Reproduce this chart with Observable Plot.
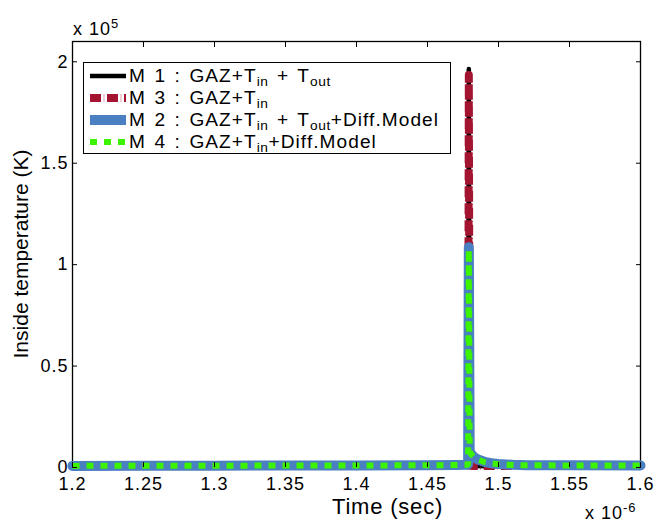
<!DOCTYPE html>
<html>
<head>
<meta charset="utf-8">
<script src="https://cdn.jsdelivr.net/npm/d3@7"></script>
<script src="https://cdn.jsdelivr.net/npm/@observablehq/plot@0.6"></script>
<style>
  body { margin: 0; background: #fff; }
  #wrap { position: relative; width: 657px; height: 521px; font-family: "Liberation Sans", Arial, sans-serif; color: #000; }
  #wrap > svg { position: absolute; left: 0; top: 0; }
  #wrap svg g[aria-label="y-axis tick label"] text,
  #wrap svg g[aria-label="x-axis tick label"] text { letter-spacing: 1px; }
  .txt { position: absolute; white-space: nowrap; line-height: 1; }
  .legend { position: absolute; left: 83px; top: 62px; width: 366px; height: 90px; border: 1px solid #000; background: #fff; box-sizing: content-box; overflow: hidden; }
  .row { position: absolute; left: 0; height: 22px; display: flex; align-items: center; font-size: 18px; white-space: nowrap; }
  #wrap .row svg { position: static; margin-left: 6px; margin-right: 3px; flex: none; }
  .row span { display: inline-block; letter-spacing: 1px; word-spacing: 2px; transform: scaleX(1.06); transform-origin: left center; }
  sub { font-size: 0.72em; vertical-align: -0.28em; line-height: 0; letter-spacing: 0.5px; }
  sup { font-size: 0.72em; vertical-align: 0.55em; line-height: 0; }
</style>
</head>
<body>
<div id="wrap"></div>
<script>
// Time in units of 1e-6 s, temperature in K
const time = [1.2, 1.25, 1.3, 1.35, 1.4, 1.45, 1.47, 1.478, 1.4786, 1.4791, 1.4797, 1.481, 1.483, 1.486, 1.49, 1.495, 1.5, 1.51, 1.52, 1.55, 1.6];
const m1 = [800, 850, 900, 950, 1000, 1100, 1200, 1300, 1500, 196500, 900, 800, 800, 800, 800, 800, 800, 800, 800, 800, 800];
const m3 = [800, 850, 900, 950, 1000, 1100, 1200, 1300, 1500, 193500, 900, 800, 800, 800, 800, 800, 800, 800, 800, 800, 800];
const m2 = [800, 850, 900, 950, 1000, 1100, 1200, 1300, 1500, 108600, 8000, 6500, 5000, 3800, 2800, 2100, 1700, 1300, 1150, 1050, 1000];
const m4 = [800, 850, 900, 950, 1000, 1100, 1200, 1300, 1500, 107500, 7800, 6300, 4900, 3700, 2700, 2000, 1600, 1250, 1100, 1000, 950];

const seriesNames = ["M1", "M3", "M2", "M4"];
const xTicks = [1.2, 1.25, 1.3, 1.35, 1.4, 1.45, 1.5, 1.55, 1.6];
const yTicks = [0, 50000, 100000, 150000, 200000];
const yTickLabels = ["0", "0.5", "1", "1.5", "2"];

const styles = {
  M1: {stroke: "#000000", strokeWidth: 4.5},
  M3: {stroke: "#a2142f", strokeWidth: 8, strokeDasharray: "11,2.8,0.4,2.8", strokeLinecap: "butt"},
  M2: {stroke: "#4a7fc2", strokeWidth: 10},
  M4: {stroke: "#3cf400", strokeWidth: 6, strokeDasharray: "7,7", strokeLinecap: "butt"}
};

const values = {M1: m1, M3: m3, M2: m2, M4: m4};
const rows = seriesNames.map(name => time.map((t, i) => ({t, v: values[name][i]})));

const fmtX = d => String(+d.toFixed(2));
const fmtY = d => yTickLabels[yTicks.indexOf(d)];

const chart = Plot.plot({
  width: 657,
  height: 521,
  marginLeft: 72,
  marginRight: 17,
  marginTop: 41,
  marginBottom: 54,
  style: {fontFamily: "Liberation Sans, Arial, sans-serif", fontSize: "18px", background: "white", color: "black"},
  x: {domain: [1.2, 1.6]},
  y: {domain: [0, 210000]},
  marks: [
    Plot.frame({stroke: "black", strokeWidth: 1.3}),
    ...seriesNames.map((name, k) => Plot.line(rows[k], {x: "t", y: "v", ...styles[name], strokeLinejoin: "round", strokeLinecap: styles[name].strokeLinecap ?? "round"})),
    Plot.axisX({anchor: "bottom", ticks: xTicks, tickSize: -5, tickPadding: 15, tickFormat: fmtX, label: null, fontSize: 18}),
    Plot.axisX({anchor: "top", ticks: xTicks, tickSize: -5, tickFormat: () => "", label: null}),
    Plot.axisY({anchor: "left", ticks: yTicks, tickSize: -5, tickPadding: 9, tickFormat: fmtY, label: null, fontSize: 18}),
    Plot.axisY({anchor: "right", ticks: yTicks, tickSize: -5, tickFormat: () => "", label: null})
  ]
});

const wrap = document.getElementById("wrap");
wrap.appendChild(chart);

function addText(html, css) {
  const el = document.createElement("div");
  el.className = "txt";
  el.innerHTML = html;
  Object.assign(el.style, css);
  wrap.appendChild(el);
  return el;
}

addText("x 10<sup>5</sup>", {left: "73px", top: "20px", fontSize: "18px", letterSpacing: "1px"});
addText("x 10<sup>-6</sup>", {left: "585px", top: "504px", fontSize: "18px", letterSpacing: "1px"});
addText("Time (sec)", {left: "332px", top: "496px", fontSize: "22px", letterSpacing: "0.8px"});
addText("Inside temperature (K)", {left: "20px", top: "254px", fontSize: "21px", transform: "translate(-50%,-50%) rotate(-90deg)"});

// Legend
const legendLabels = [
  "M 1 : GAZ+T<sub>in</sub> + T<sub>out</sub>",
  "M 3 : GAZ+T<sub>in</sub>",
  "M 2 : GAZ+T<sub>in</sub> + T<sub>out</sub>+Diff.Model",
  "M 4 : GAZ+T<sub>in</sub>+Diff.Model"
];
const legend = document.createElement("div");
legend.className = "legend";
wrap.appendChild(legend);
seriesNames.forEach((name, i) => {
  const row = document.createElement("div");
  row.className = "row";
  row.style.top = (2 + i * 22) + "px";
  const s = styles[name];
  row.innerHTML = `<svg width="36" height="12"><line x1="0" y1="6" x2="36" y2="6" stroke="${s.stroke}" stroke-width="${s.strokeWidth}" stroke-dasharray="${s.strokeDasharray ?? ""}"/></svg><span>${legendLabels[i]}</span>`;
  legend.appendChild(row);
});
</script>
</body>
</html>
